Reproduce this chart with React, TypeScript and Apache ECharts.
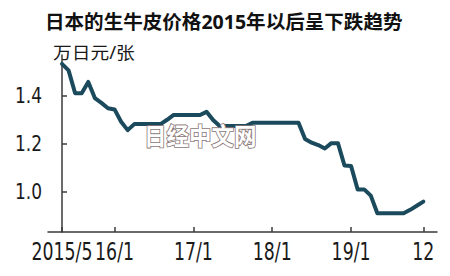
import React, { useEffect, useRef } from "react";
import * as echarts from "echarts";

const months = [
  "2015/5", "2015/6", "2015/7", "2015/8", "2015/9", "2015/10", "2015/11", "2015/12",
  "2016/1", "2016/2", "2016/3", "2016/4", "2016/5", "2016/6", "2016/7", "2016/8", "2016/9", "2016/10", "2016/11", "2016/12",
  "2017/1", "2017/2", "2017/3", "2017/4", "2017/5", "2017/6", "2017/7", "2017/8", "2017/9", "2017/10", "2017/11", "2017/12",
  "2018/1", "2018/2", "2018/3", "2018/4", "2018/5", "2018/6", "2018/7", "2018/8", "2018/9", "2018/10", "2018/11", "2018/12",
  "2019/1", "2019/2", "2019/3", "2019/4", "2019/5", "2019/6", "2019/7", "2019/8", "2019/9", "2019/10", "2019/11", "2019/12",
];

const prices = [
  1.532, 1.505, 1.41, 1.41, 1.457, 1.39, 1.37, 1.348,
  1.343, 1.292, 1.257, 1.282, 1.282, 1.282, 1.282, 1.282, 1.3, 1.32, 1.32, 1.32,
  1.32, 1.32, 1.333, 1.299, 1.274, 1.274, 1.274, 1.274, 1.274, 1.288, 1.288, 1.288,
  1.288, 1.288, 1.288, 1.288, 1.288, 1.22, 1.205, 1.195, 1.181, 1.203, 1.203, 1.11,
  1.108, 1.011, 1.011, 0.985, 0.912, 0.912, 0.912, 0.912, 0.912, 0.926, 0.943, 0.96,
];

const xTickMonths = ["2015/5", "2016/1", "2017/1", "2018/1", "2019/1", "2019/12"];
const xTickLabels = ["2015/5", "16/1", "17/1", "18/1", "19/1", "12"];
const yTickValues = [1.0, 1.2, 1.4];

const titleText = "日本的生牛皮价格2015年以后呈下跌趋势";
const unitText = "万日元/张";
const watermarkText = "日经中文网";

const narrow = "'DejaVu Sans Condensed', sans-serif";
const cjk = "'Noto Sans', 'Noto Sans CJK SC', sans-serif";

export default function App() {
  const ref = useRef<HTMLDivElement>(null);
  useEffect(() => {
    const chart = echarts.init(ref.current!, null, { renderer: "svg" });
    const data = prices.map((v, i) => [i, v]);
    const tickIdx = xTickMonths.map((m) => months.indexOf(m));
    const axisColor = "#3a3a3a";
    chart.setOption({
      animation: false,
      backgroundColor: "#ffffff",
      grid: { left: 48, right: 13, top: 55, bottom: 44 },
      xAxis: {
        type: "value",
        min: -2.13,
        max: 57.08,
        axisLine: { show: true, lineStyle: { color: axisColor, width: 1.5 } },
        splitLine: { show: false },
        axisTick: {
          show: true,
          inside: true,
          length: 5,
          customValues: tickIdx,
          lineStyle: { color: axisColor, width: 1.5 },
        },
        axisLabel: { show: false },
      },
      yAxis: {
        type: "value",
        min: 0.834,
        max: 1.569,
        axisLine: { show: true, lineStyle: { color: axisColor, width: 1.5 } },
        splitLine: { show: false },
        axisTick: {
          show: true,
          inside: true,
          length: 5,
          customValues: yTickValues,
          lineStyle: { color: axisColor, width: 1.5 },
        },
        axisLabel: { show: false },
      },
      series: [
        {
          type: "line",
          data,
          showSymbol: false,
          lineStyle: { color: "#1b4a5d", width: 4, join: "round", cap: "round" },
          z: 2,
        },
      ],
    });

    const xLabels = tickIdx.map((idx, k) => ({
      type: "text",
      x: chart.convertToPixel({ xAxisIndex: 0 }, idx) as number,
      y: 251,
      scaleX: 0.78,
      z: 10,
      style: {
        text: xTickLabels[k],
        font: `24.7px ${narrow}`,
        fill: "#1a1a1a",
        align: "center",
        verticalAlign: "middle",
      },
    }));
    const yLabels = yTickValues.map((v) => ({
      type: "text",
      x: 42,
      y: chart.convertToPixel({ yAxisIndex: 0 }, v) as number,
      scaleX: 0.88,
      z: 10,
      style: {
        text: v.toFixed(1),
        font: `21.5px ${narrow}`,
        fill: "#1a1a1a",
        align: "right",
        verticalAlign: "middle",
      },
    }));

    chart.setOption({
      graphic: [
        ...xLabels,
        ...yLabels,
        {
          type: "text",
          x: 45,
          y: 21.5,
          scaleX: 1.03,
          z: 10,
          style: {
            text: titleText,
            font: `bold 19px ${cjk}`,
            fill: "#111111",
            align: "left",
            verticalAlign: "middle",
          },
        },
        {
          type: "text",
          x: 53,
          y: 52,
          scaleX: 1.07,
          z: 10,
          style: {
            text: unitText,
            font: `17.5px ${cjk}`,
            fill: "#1a1a1a",
            align: "left",
            verticalAlign: "middle",
          },
        },
        {
          type: "text",
          x: 144,
          y: 135,
          scaleY: 1.08,
          z: 20,
          style: {
            text: watermarkText,
            font: `bold 22.5px 'Noto Sans CJK SC', sans-serif`,
            fill: "#ffffff",
            stroke: "#8a7676",
            lineWidth: 1.6,
            verticalAlign: "middle",
            align: "left",
          },
        },
      ],
    });
    return () => chart.dispose();
  }, []);
  return (
    <div
      ref={ref}
      style={{ position: "fixed", left: 0, top: 0, width: 450, height: 276 }}
    />
  );
}
